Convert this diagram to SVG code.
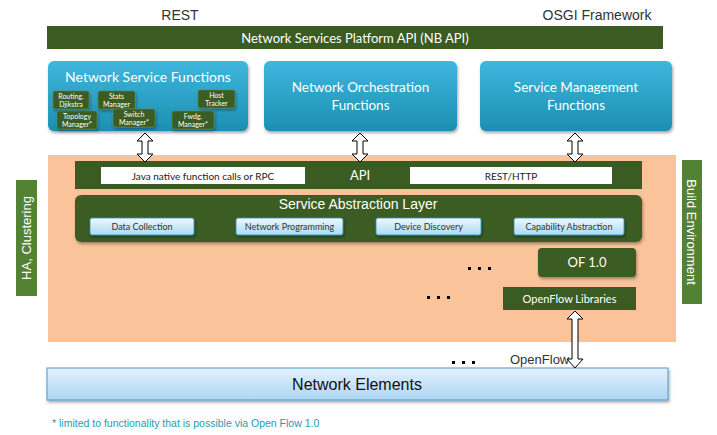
<svg xmlns="http://www.w3.org/2000/svg" width="717" height="435" viewBox="0 0 717 435">
<defs>
<linearGradient id="blueG" x1="0" y1="0" x2="0" y2="1"><stop offset="0" stop-color="#3fb6de"/><stop offset="1" stop-color="#1c8fb2"/></linearGradient>
<linearGradient id="lightG" x1="0" y1="0" x2="0" y2="1"><stop offset="0" stop-color="#eef8fd"/><stop offset="1" stop-color="#a9dcf3"/></linearGradient>
<linearGradient id="neG" x1="0" y1="0" x2="0" y2="1"><stop offset="0" stop-color="#e3f2fd"/><stop offset="1" stop-color="#acd6f4"/></linearGradient>
<filter id="sh" x="-10%" y="-10%" width="120%" height="130%"><feDropShadow dx="1" dy="2" stdDeviation="1.5" flood-color="#000" flood-opacity="0.35"/></filter>
</defs>
<style>
.cal{font-family:Lato,"Open Sans","Liberation Sans",sans-serif}
.ar{font-family:"Liberation Sans",Arial,sans-serif}
.w{fill:#fff}
.dg{fill:#3a5c22}
.lg{fill:#548235}
.blue{fill:url(#blueG);filter:url(#sh)}
.sub{fill:#3a5c22;stroke:#6a8a50;stroke-width:0.6;filter:url(#sh)}
.lb{fill:url(#lightG);stroke:#2e8fc0;stroke-width:0.8;filter:url(#sh)}
.arrow{fill:#fff;stroke:#000;stroke-width:1}
</style>
<text class="ar" x="180" y="20" font-size="14" fill="#333" text-anchor="middle">REST</text>
<text class="ar" x="597" y="20" font-size="14" fill="#333" text-anchor="middle">OSGI Framework</text>
<g id="nbapi"><rect class="dg" x="47" y="26" width="616" height="23"/><text class="cal w" x="355" y="42.5" font-size="13" text-anchor="middle">Network Services Platform API (NB API)</text></g>
<g id="nsf"><rect class="blue" x="48" y="61" width="200" height="70" rx="6"/><text class="cal w" x="148" y="82" font-size="14" text-anchor="middle">Network Service Functions</text>
<g font-size="7" text-anchor="middle" class="cal">
<rect class="sub" x="53" y="91" width="36" height="18" rx="2"/><text class="w" x="71" y="98.5">Routing.</text><text class="w" x="71" y="106.5">Djikstra</text>
<rect class="sub" x="98" y="91" width="37" height="18" rx="2"/><text class="w" x="116.5" y="98.5">Stats</text><text class="w" x="116.5" y="106.5">Manager</text>
<rect class="sub" x="198" y="90" width="37" height="18" rx="2"/><text class="w" x="216.5" y="97.5">Host</text><text class="w" x="216.5" y="105.5">Tracker</text>
<rect class="sub" x="57" y="111" width="40" height="18" rx="2"/><text class="w" x="77" y="118.5">Topology</text><text class="w" x="77" y="126.5">Manager*</text>
<rect class="sub" x="113" y="109" width="42" height="18" rx="2"/><text class="w" x="134" y="116.5">Switch</text><text class="w" x="134" y="124.5">Manager*</text>
<rect class="sub" x="172" y="111" width="42" height="18" rx="2"/><text class="w" x="193" y="118.5">Fwdg.</text><text class="w" x="193" y="126.5">Manager*</text>
</g></g>
<g id="nof"><rect class="blue" x="264" y="61" width="193" height="70" rx="6"/><text class="cal w" x="360.5" y="92" font-size="13.5" text-anchor="middle">Network Orchestration</text><text class="cal w" x="360.5" y="110" font-size="13.5" text-anchor="middle">Functions</text></g>
<g id="smf"><rect class="blue" x="480" y="61" width="192" height="70" rx="6"/><text class="cal w" x="576" y="92" font-size="13.5" text-anchor="middle">Service Management</text><text class="cal w" x="576" y="110" font-size="13.5" text-anchor="middle">Functions</text></g>
<g id="ha"><rect class="lg" x="16" y="180" width="21" height="116"/><text class="ar w" transform="translate(31,238) rotate(-90)" font-size="13" text-anchor="middle">HA, Clustering</text></g>
<g id="controller"><rect x="48" y="155" width="628" height="187" fill="#fbc39a"/></g>
<g id="build"><rect class="lg" x="682" y="160" width="20" height="144"/><text class="ar w" transform="translate(687,232) rotate(90)" font-size="13" text-anchor="middle">Build Environment</text></g>
<g id="api"><rect class="dg" x="75" y="161" width="567" height="28"/>
<rect x="101" y="167" width="204" height="17" fill="#fff"/><text class="cal" x="203" y="179.5" font-size="10" fill="#222" text-anchor="middle">Java native function calls or RPC</text>
<text class="cal w" x="360" y="180" font-size="13" text-anchor="middle">API</text>
<rect x="410" y="167" width="202" height="17" fill="#fff"/><text class="cal" x="511" y="179.5" font-size="10" fill="#222" text-anchor="middle">REST/HTTP</text></g>
<g id="sal"><rect x="75" y="195" width="567" height="47" rx="6" fill="#3a5c22" filter="url(#sh)"/><text class="ar w" x="358" y="209" font-size="14" text-anchor="middle">Service Abstraction Layer</text>
<g class="cal" font-size="9" fill="#333" text-anchor="middle">
<rect class="lb" x="90" y="218" width="104" height="17" rx="2"/><text x="142" y="230">Data Collection</text>
<rect class="lb" x="236" y="218" width="107" height="17" rx="2"/><text x="289.5" y="230">Network Programming</text>
<rect class="lb" x="376" y="218" width="105" height="17" rx="2"/><text x="428.5" y="230">Device Discovery</text>
<rect class="lb" x="514" y="218" width="110" height="17" rx="2"/><text x="569" y="230">Capability Abstraction</text>
</g></g>
<g id="of10"><rect x="538" y="248" width="98" height="29" rx="4" fill="#3a5c22" filter="url(#sh)"/><text class="cal w" x="587" y="267" font-size="13" text-anchor="middle">OF 1.0</text></g>
<g id="ofl"><rect class="dg" x="503" y="287" width="133" height="23"/><text class="cal w" x="569.5" y="302.5" font-size="11" text-anchor="middle">OpenFlow Libraries</text></g>
<g id="dots" fill="#000">
<rect x="468" y="267" width="3" height="3"/><rect x="478" y="267" width="3" height="3"/><rect x="488" y="267" width="3" height="3"/>
<rect x="427" y="296" width="3" height="3"/><rect x="437" y="296" width="3" height="3"/><rect x="447" y="296" width="3" height="3"/>
<rect x="452" y="361" width="3" height="3"/><rect x="462" y="361" width="3" height="3"/><rect x="472" y="361" width="3" height="3"/>
</g>
<g id="ne"><rect x="47" y="368" width="621" height="32" fill="url(#neG)" stroke="#4a9ad0" stroke-width="1" filter="url(#sh)"/><text class="ar" x="357" y="390" font-size="16" fill="#111" text-anchor="middle">Network Elements</text></g>
<g id="connectors">
<path class="arrow" d="M145,133 L153,141 L148,141 L148,154 L153,154 L145,162 L137,154 L142,154 L142,141 L137,141 Z"/>
<path class="arrow" d="M360,133 L368,141 L363,141 L363,154 L368,154 L360,162 L352,154 L357,154 L357,141 L352,141 Z"/>
<path class="arrow" d="M575,133 L583,141 L578,141 L578,154 L583,154 L575,162 L567,154 L572,154 L572,141 L567,141 Z"/>
<path class="arrow" d="M575,311 L583,319 L578,319 L578,359 L583,359 L575,368 L567,359 L572,359 L572,319 L567,319 Z"/>
</g>
<text class="ar" x="510" y="364" font-size="13" fill="#333">OpenFlow</text>
<text class="ar" x="52" y="427" font-size="10.5" fill="#1f9bb5">* limited to functionality that is possible via Open Flow 1.0</text>
</svg>
